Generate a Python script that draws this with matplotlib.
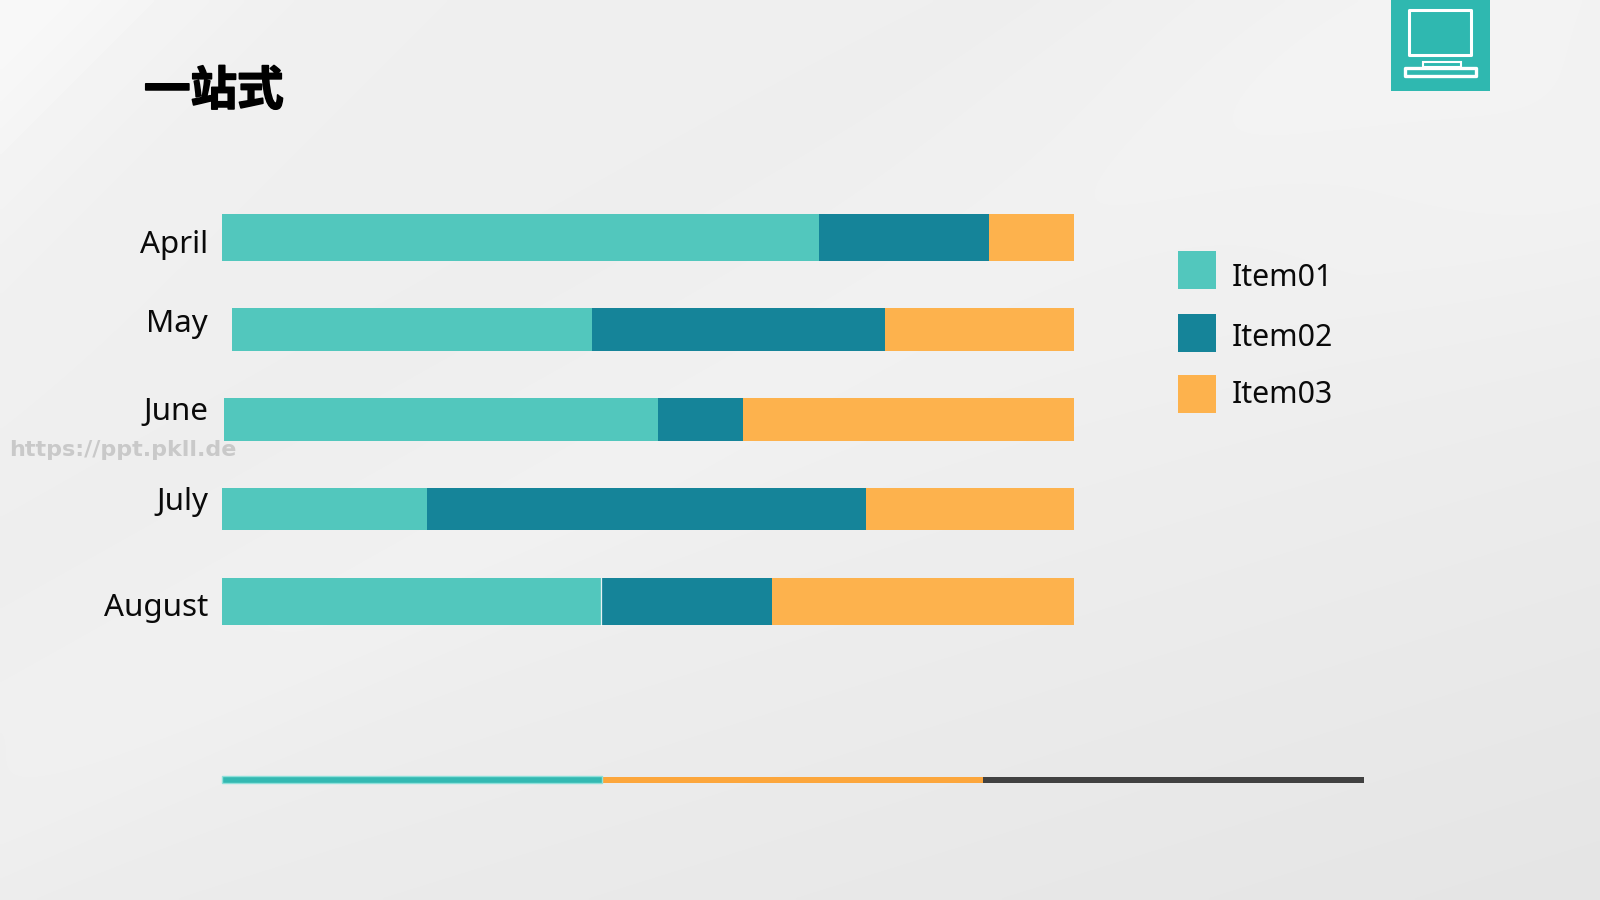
import numpy as np
import matplotlib
matplotlib.use('Agg')
import matplotlib.pyplot as plt
import matplotlib.patheffects as pe
from matplotlib.patches import Rectangle

plt.rcParams['font.family'] = ['Noto Sans', 'DejaVu Sans']

months = ['April', 'May', 'June', 'July', 'August']
items = ['Item01', 'Item02', 'Item03']
# share of each item in percent, offset is the gap before the first segment
offset = [0.0, 1.2, 0.2, 0.0, 0.0]
item01 = [70.1, 42.2, 51.0, 24.1, 44.5]
item02 = [19.9, 34.4, 9.9, 51.5, 20.1]
item03 = [10.0, 22.2, 38.9, 24.4, 35.4]

colors = ['#52c7bd', '#158499', '#fdb24d']

# bar rows and month labels, in pixels from the top
bar_y = [237.5, 329.5, 419.5, 509, 601.5]
bar_h = [47, 43, 43, 42, 47]
label_y = [245, 324, 412, 502, 608]

fig = plt.figure(figsize=(16, 9), dpi=100)

# page background, soft grey gradient running to the lower right
bg = fig.add_axes([0, 0, 1, 1], zorder=0)
yy, xx = np.mgrid[0:1:225j, 0:1:400j]
shade = 239 - 7 * (xx * 0.5 + yy * 0.9 - 0.7).clip(0) * 2.2
shade = shade + 9 * np.exp(-((xx * 1.6 + yy * 0.9) / 0.2) ** 2)
shade = shade + 3 * np.exp(-((xx - 0.95) ** 2 + (yy - 0.1) ** 2) / 0.05)
# faint diagonal streaks
shade = shade - 1.5 * np.exp(-((xx * 1.6 + yy * 1.6 - 1.0) / 0.12) ** 2)
shade = shade + 1.5 * np.exp(-((xx * 1.6 + yy * 1.6 - 1.45) / 0.15) ** 2)
bg.imshow(shade, cmap='gray', vmin=0, vmax=255, aspect='auto',
          extent=[0, 1600, 900, 0], interpolation='bilinear')
bg.set_xlim(0, 1600)
bg.set_ylim(900, 0)
bg.axis('off')

# stacked bars, the axes span exactly 0-100 percent
ax = fig.add_axes([222 / 1600, 0, 852 / 1600, 1], zorder=2)
ax.set_xlim(0, 100)
ax.set_ylim(900, 0)
ax.axis('off')
ax.patch.set_alpha(0)
left = np.array(offset)
for vals, c, name in zip([item01, item02, item03], colors, items):
    ax.barh(bar_y, vals, height=bar_h, left=left, color=c, linewidth=0, label=name)
    left = left + np.array(vals)

# thin white seam in the August bar
aug_end = item01[4]
ax.plot([aug_end, aug_end], [578, 625], color='white', lw=0.9, alpha=0.9)

# everything else is placed in page pixels
top = fig.add_axes([0, 0, 1, 1], zorder=3)
top.set_xlim(0, 1600)
top.set_ylim(900, 0)
top.axis('off')
top.patch.set_alpha(0)

for m, y in zip(months, label_y):
    top.text(208, y, m, ha='right', va='center', fontsize=22.5, color='#0a0a0a')

top.text(144, 91, '一站式', family=['Noto Sans CJK SC', 'DejaVu Sans'], fontweight='bold',
         fontsize=33.5, ha='left', va='center', color='black',
         path_effects=[pe.withStroke(linewidth=1.2, foreground='black')])

top.text(9, 450, 'https://ppt.pkll.de', family='DejaVu Sans', fontweight='bold',
         fontsize=16, color='#c9c9c9', ha='left', va='center', zorder=5)

# legend built by hand so the spacing can be uneven
legend_top = [251, 314, 375]
legend_text = [278.5, 338, 395]
for name, c, y0, yt in zip(items, colors, legend_top, legend_text):
    top.add_patch(Rectangle((1178, y0), 38, 38, fc=c, ec='none'))
    top.text(1232, yt, name, fontsize=21.8, va='center', ha='left', color='#0a0a0a')

# three colour rule below the chart
rule_x = [222, 602, 983, 1364]
rule_c = ['#33b9b2', '#fca63c', '#414141']
for i in range(3):
    top.add_patch(Rectangle((rule_x[i], 776.8), rule_x[i + 1] - rule_x[i], 5.8, fc=rule_c[i], ec='none'))
top.add_patch(Rectangle((222, 776.3), 380, 6.8, fc='none', ec='#8fe0da', lw=1))

# computer icon
top.add_patch(Rectangle((1391, 0), 99, 91, fc='#2fb8b0', ec='none'))
top.add_patch(Rectangle((1409, 10), 62, 45, fc='none', ec='white', lw=2.2, joinstyle='round'))
top.add_patch(Rectangle((1423, 62), 38, 5, fc='none', ec='white', lw=1.5))
top.add_patch(Rectangle((1405, 68), 71, 7.5, fc='none', ec='white', lw=2.4, joinstyle='round'))

fig.savefig('out.png', dpi=100)
